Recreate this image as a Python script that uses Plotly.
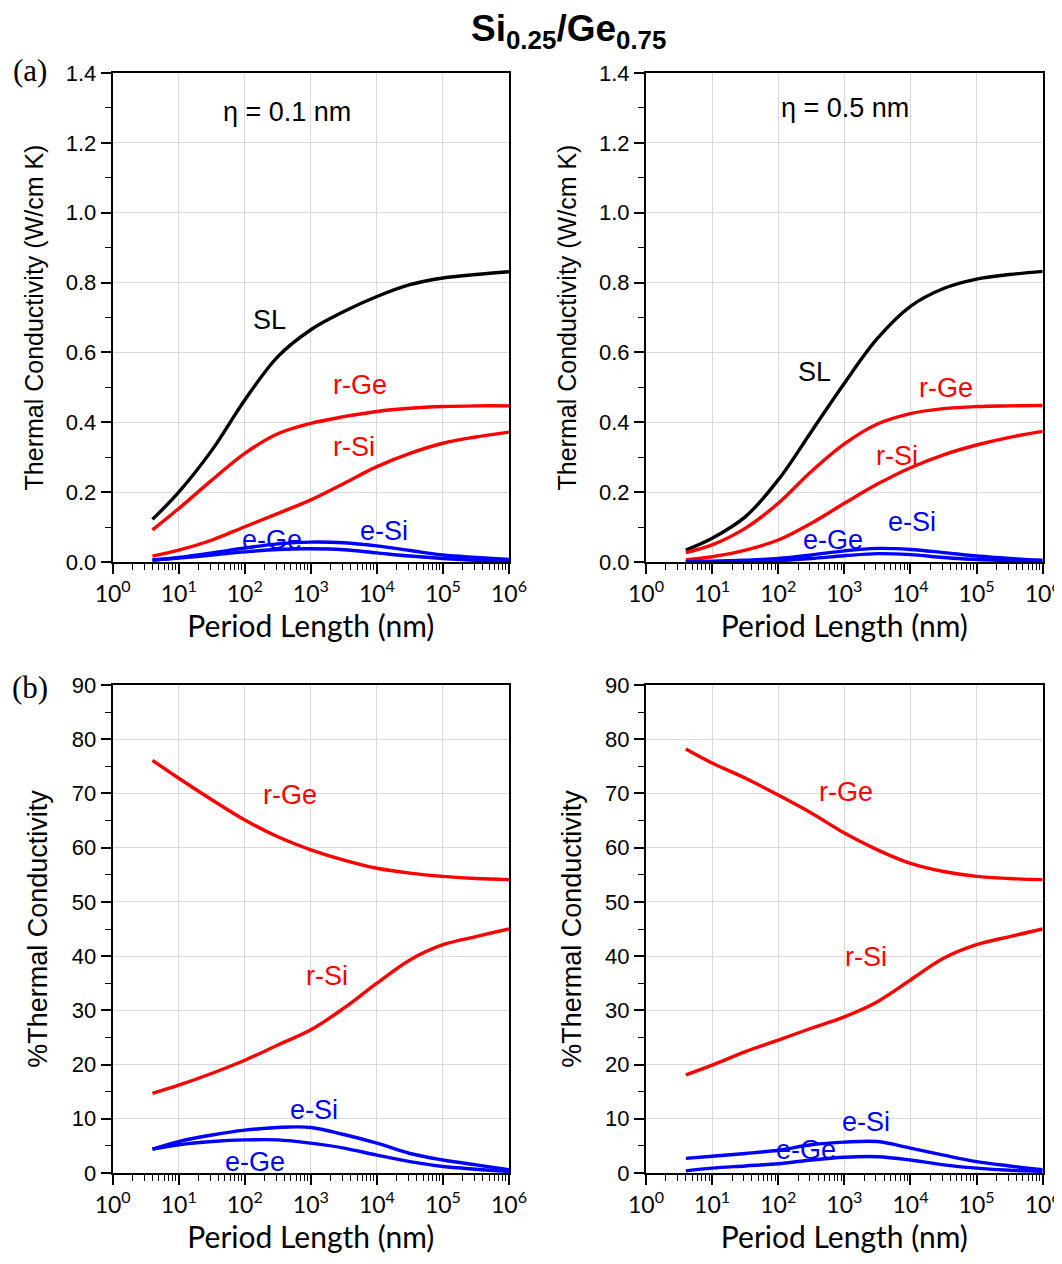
import plotly.graph_objects as go

# Period length (nm)
period = [4, 10, 32, 100, 316, 1000, 3162, 10000, 31623, 100000, 316228, 1000000]

# (a) thermal conductivity, eta = 0.1 nm
a1_SL = [0.122, 0.200, 0.321, 0.464, 0.588, 0.665, 0.717, 0.760, 0.794, 0.813, 0.823, 0.831]
a1_rGe = [0.092, 0.153, 0.235, 0.311, 0.367, 0.397, 0.416, 0.431, 0.440, 0.445, 0.447, 0.447]
a1_rSi = [0.017, 0.034, 0.063, 0.101, 0.139, 0.178, 0.225, 0.273, 0.311, 0.340, 0.358, 0.372]
a1_eSi = [0.006, 0.013, 0.026, 0.040, 0.052, 0.057, 0.055, 0.046, 0.033, 0.020, 0.013, 0.007]
a1_eGe = [0.005, 0.011, 0.020, 0.029, 0.036, 0.038, 0.035, 0.026, 0.017, 0.010, 0.005, 0.003]

# (a) thermal conductivity, eta = 0.5 nm
a2_SL = [0.034, 0.068, 0.130, 0.235, 0.373, 0.512, 0.640, 0.732, 0.783, 0.810, 0.823, 0.832]
a2_rGe = [0.027, 0.049, 0.097, 0.168, 0.259, 0.338, 0.395, 0.425, 0.439, 0.445, 0.447, 0.448]
a2_rSi = [0.006, 0.015, 0.034, 0.063, 0.111, 0.168, 0.223, 0.270, 0.307, 0.335, 0.357, 0.374]
a2_eSi = [0.001, 0.002, 0.005, 0.010, 0.020, 0.032, 0.039, 0.036, 0.027, 0.017, 0.010, 0.005]
a2_eGe = [0.0002, 0.001, 0.002, 0.004, 0.010, 0.018, 0.024, 0.021, 0.013, 0.007, 0.004, 0.002]

# (b) % thermal conductivity, eta = 0.1 nm
b1_rGe = [76.1, 72.8, 68.8, 65.1, 62.0, 59.6, 57.7, 56.2, 55.3, 54.7, 54.3, 54.1]
b1_rSi = [14.7, 16.2, 18.4, 20.8, 23.6, 26.4, 30.4, 35.0, 39.3, 42.1, 43.6, 45.0]
b1_eSi = [4.4, 5.8, 7.0, 7.9, 8.4, 8.4, 7.1, 5.5, 3.6, 2.4, 1.5, 0.6]
b1_eGe = [4.4, 5.2, 5.8, 6.1, 6.1, 5.5, 4.6, 3.3, 2.1, 1.2, 0.7, 0.3]

# (b) % thermal conductivity, eta = 0.5 nm
b2_rGe = [78.2, 75.6, 72.8, 69.7, 66.4, 62.7, 59.6, 57.1, 55.6, 54.7, 54.3, 54.1]
b2_rSi = [18.1, 19.9, 22.4, 24.5, 26.7, 28.8, 31.6, 35.6, 39.6, 42.1, 43.6, 45.0]
b2_eSi = [2.7, 3.1, 3.6, 4.2, 5.2, 5.7, 5.8, 4.6, 3.3, 2.1, 1.3, 0.6]
b2_eGe = [0.4, 0.9, 1.3, 1.7, 2.4, 2.9, 3.0, 2.4, 1.5, 0.9, 0.5, 0.3]

x_tickvals = [1, 10, 100, 1000, 10000, 100000, 1000000]
x_ticktext = ["10<sup>0</sup>", "10<sup>1</sup>", "10<sup>2</sup>", "10<sup>3</sup>",
              "10<sup>4</sup>", "10<sup>5</sup>", "10<sup>6</sup>"]

RED = "#ff0000"
BLUE = "#0000ff"
BLACK = "#000000"
FONT = "Liberation Sans, Arial, sans-serif"
XFONT = "Lato, Open Sans, sans-serif"

# the page body adds an 8 px margin; lay out in page pixels and subtract it
OFF = 8
W = 1062 - OFF
H = 1264 - 2 * OFF

def px(x):
    return (x - OFF) / W

def py(y):
    return 1 - (y - OFF) / H

xl = [px(112.7), px(509)]
xr = [px(646), px(1042.7)]
yt = [py(562), py(73)]
yb = [py(1173), py(685)]

fig = go.Figure()

panels = [
    ("x", "y", [(a1_SL, BLACK), (a1_rGe, RED), (a1_rSi, RED), (a1_eSi, BLUE), (a1_eGe, BLUE)]),
    ("x2", "y2", [(a2_SL, BLACK), (a2_rGe, RED), (a2_rSi, RED), (a2_eSi, BLUE), (a2_eGe, BLUE)]),
    ("x3", "y3", [(b1_rGe, RED), (b1_rSi, RED), (b1_eSi, BLUE), (b1_eGe, BLUE)]),
    ("x4", "y4", [(b2_rGe, RED), (b2_rSi, RED), (b2_eSi, BLUE), (b2_eGe, BLUE)]),
]
for xa, ya, series in panels:
    for vals, col in series:
        fig.add_trace(go.Scatter(x=period, y=vals, xaxis=xa, yaxis=ya, mode="lines",
                                 line=dict(color=col, width=3.4, shape="spline", smoothing=1.0),
                                 showlegend=False, hoverinfo="skip"))

def xaxis(domain, anchor):
    return dict(domain=domain, anchor=anchor, type="log", range=[0, 6], automargin=False,
                tickvals=x_tickvals, ticktext=x_ticktext, ticks="outside", ticklen=10,
                tickwidth=1.5, tickcolor="black", showline=True, linecolor="black", linewidth=2,
                mirror=True, showgrid=True, gridcolor="#d9d9d9", gridwidth=1.2,
                ticklabeloverflow="allow",
                minor=dict(ticks="outside", ticklen=6, tickwidth=1.2, tickcolor="black",
                           dtick="D1", showgrid=False),
                tickfont=dict(family=XFONT, size=23, color="black"),
                title=dict(text="Period Length (nm)", font=dict(family=XFONT, size=30, color="black"),
                           standoff=6),
                zeroline=False)

def yaxis(domain, anchor, rng, dtick, minor_dtick, title, fmt, tsize, standoff):
    return dict(domain=domain, anchor=anchor, range=rng, dtick=dtick, tick0=0, automargin=False,
                ticks="outside", ticklen=10, tickwidth=1.5, tickcolor="black",
                showline=True, linecolor="black", linewidth=2, mirror=True,
                showgrid=True, gridcolor="#d9d9d9", gridwidth=1.2, zeroline=False,
                tickformat=fmt, ticklabeloverflow="allow",
                minor=dict(ticks="outside", ticklen=6, tickwidth=1.2, tickcolor="black",
                           dtick=minor_dtick, tick0=0, showgrid=False),
                tickfont=dict(family=FONT, size=22, color="black"),
                title=dict(text=title, font=dict(family=FONT, size=tsize, color="black"),
                           standoff=standoff))

fig.update_layout(
    width=W, height=H, margin=dict(l=0, r=0, t=0, b=0, autoexpand=False),
    paper_bgcolor="white", plot_bgcolor="white",
    xaxis=xaxis(xl, "y"), xaxis2=xaxis(xr, "y2"), xaxis3=xaxis(xl, "y3"), xaxis4=xaxis(xr, "y4"),
    yaxis=yaxis(yt, "x", [0, 1.4], 0.2, 0.1, "Thermal Conductivity (W/cm K)", ".1f", 25, 15),
    yaxis2=yaxis(yt, "x2", [0, 1.4], 0.2, 0.1, "Thermal Conductivity (W/cm K)", ".1f", 25, 15),
    yaxis3=yaxis(yb, "x3", [0, 90], 10, 5, "%Thermal Conductivity", "d", 27, 16),
    yaxis4=yaxis(yb, "x4", [0, 90], 10, 5, "%Thermal Conductivity", "d", 27, 16),
)

ann = []
def lab(text, xref, yref, x, y, color, size=27):
    ann.append(dict(text=text, xref=xref, yref=yref, x=x, y=y, showarrow=False,
                    xanchor="center", yanchor="middle",
                    font=dict(family=FONT, size=size, color=color)))

# panel (a) left
lab("η = 0.1 nm", "paper", "paper", px(287), py(112), BLACK)
lab("SL", "x", "y", 2.38, 0.693, BLACK)
lab("r-Ge", "x", "y", 3.75, 0.507, RED)
lab("r-Si", "x", "y", 3.66, 0.33, RED)
lab("e-Ge", "x", "y", 2.41, 0.063, BLUE)
lab("e-Si", "x", "y", 4.11, 0.089, BLUE)
# panel (a) right
lab("η = 0.5 nm", "paper", "paper", px(845), py(108), BLACK)
lab("SL", "x2", "y2", 2.55, 0.544, BLACK)
lab("r-Ge", "x2", "y2", 4.54, 0.499, RED)
lab("r-Si", "x2", "y2", 3.80, 0.304, RED)
lab("e-Ge", "x2", "y2", 2.83, 0.063, BLUE)
lab("e-Si", "x2", "y2", 4.02, 0.115, BLUE)
# panel (b) left
lab("r-Ge", "x3", "y3", 2.69, 69.7, RED)
lab("r-Si", "x3", "y3", 3.25, 36.3, RED)
lab("e-Si", "x3", "y3", 3.05, 11.6, BLUE)
lab("e-Ge", "x3", "y3", 2.16, 2.0, BLUE)
# panel (b) right
lab("r-Ge", "x4", "y4", 3.03, 70.3, RED)
lab("r-Si", "x4", "y4", 3.33, 39.9, RED)
lab("e-Si", "x4", "y4", 3.33, 9.4, BLUE)
lab("e-Ge", "x4", "y4", 2.42, 4.2, BLUE)

# title and panel letters
ann.append(dict(text="<b>Si<sub>0.25</sub>/Ge<sub>0.75</sub></b>", xref="paper", yref="paper",
                x=px(568), y=py(6), xanchor="center", yanchor="top", showarrow=False,
                font=dict(family="Liberation Sans Narrow, Liberation Sans, Arial", size=37, color="black")))
ann.append(dict(text="(a)", xref="paper", yref="paper", x=px(30), y=py(70),
                xanchor="center", yanchor="middle", showarrow=False,
                font=dict(family="Liberation Serif, Times New Roman, serif", size=31, color="black")))
ann.append(dict(text="(b)", xref="paper", yref="paper", x=px(30), y=py(688),
                xanchor="center", yanchor="middle", showarrow=False,
                font=dict(family="Liberation Serif, Times New Roman, serif", size=31, color="black")))

fig.update_layout(annotations=ann)
fig.write_html("out.html", default_width=f"{W}px", default_height=f"{H}px")
